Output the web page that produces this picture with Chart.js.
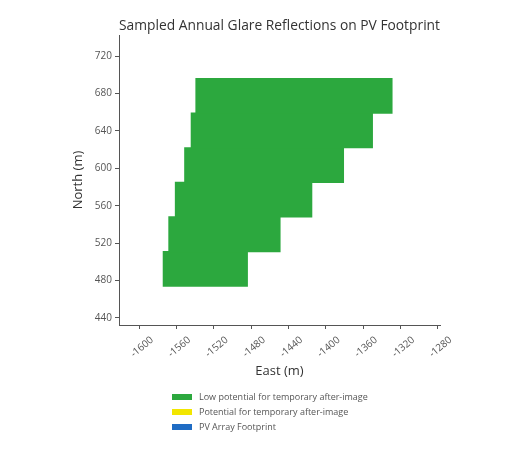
<!DOCTYPE html>
<html>
<head>
<meta charset="utf-8">
<script src="https://cdn.jsdelivr.net/npm/chart.js@4.4.0/dist/chart.umd.min.js"></script>
<style>
body{margin:0;background:#fff;}
#wrap{position:relative;width:508px;height:458px;background:#fff;}
#legend{position:absolute;left:172px;top:389px;font:9px "Open Sans";color:#555;}
.row{height:15px;display:flex;align-items:center;}
.box{width:20px;height:6px;margin-right:7px;}
</style>
</head>
<body>
<div id="wrap">
<canvas id="glare" width="508" height="390"></canvas>
<div id="legend"></div>
</div>
<script>
// glare rows, bottom to top (north = row centre, west/east = row extent)
const rowNorth = [492.5, 529.5, 566.5, 603.5, 640.5, 677.5];
const rowWest = [-1574, -1568, -1561, -1551, -1544, -1539];
const rowEast = [-1484, -1449, -1415, -1381, -1350, -1329];

const legendLabels = ['Low potential for temporary after-image', 'Potential for temporary after-image', 'PV Array Footprint'];
const legendColors = ['#2ca83e', '#f2e600', '#1f6cc4'];

const axisCol = '#555';

// legend under the plot
let lg = document.getElementById('legend');
legendLabels.forEach((t, i) => {
  let row = document.createElement('div');
  row.className = 'row';
  let box = document.createElement('span');
  box.className = 'box';
  box.style.background = legendColors[i];
  let txt = document.createElement('span');
  txt.innerText = t;
  row.appendChild(box);
  row.appendChild(txt);
  lg.appendChild(row);
});

const tickFont = {family: 'Open Sans', size: 10};

new Chart(document.getElementById('glare'), {
  type: 'bar',
  data: {
    datasets: [{
      label: legendLabels[0],
      xAxisID: 'x',
      yAxisID: 'y',
      data: rowNorth.map((n, i) => ({y: n, x: [rowWest[i], rowEast[i]]})),
      backgroundColor: legendColors[0],
      borderWidth: 0,
      borderSkipped: false,
      inflateAmount: 0.6,
      barPercentage: 1,
      categoryPercentage: 1,
      grouped: false
    }]
  },
  options: {
    indexAxis: 'y',
    responsive: false,
    animation: false,
    layout: {padding: {left: 66, right: 68, top: 0, bottom: 3}},
    plugins: {legend: {display: false}, tooltip: {enabled: false}},
    scales: {
      x: {
        type: 'linear',
        position: 'bottom',
        min: -1621.5,
        max: -1277.5,
        ticks: {stepSize: 40, includeBounds: false, minRotation: 40, maxRotation: 40, font: tickFont, color: axisCol, padding: 5, labelOffset: 13, callback: v => String(v)},
        grid: {drawOnChartArea: false, drawTicks: true, tickLength: 4, color: axisCol},
        border: {color: axisCol},
        title: {display: true, text: 'East (m)', font: {family: 'Open Sans', size: 13}, color: '#333', padding: {bottom: 8}},
        afterFit: s => { s.height = 62; }
      },
      x2: {
        type: 'linear',
        position: 'top',
        ticks: {display: false},
        grid: {display: false},
        border: {display: false},
        title: {display: true, text: 'Sampled Annual Glare Reflections on PV Footprint', font: {family: 'Open Sans', size: 14}, color: '#333', padding: {top: 18}},
        afterFit: s => { s.height = 35; }
      },
      y: {
        type: 'linear',
        offset: false,
        min: 432.5,
        max: 742.5,
        ticks: {stepSize: 40, includeBounds: false, font: tickFont, color: axisCol, padding: 3, callback: v => String(v)},
        grid: {drawOnChartArea: false, drawTicks: true, tickLength: 4, color: axisCol, offset: false},
        border: {color: axisCol},
        title: {display: true, text: 'North (m)', font: {family: 'Open Sans', size: 13}, color: '#333', padding: {top: 4}},
        afterFit: s => { s.width = 53; }
      }
    }
  }
});
</script>
</body>
</html>
